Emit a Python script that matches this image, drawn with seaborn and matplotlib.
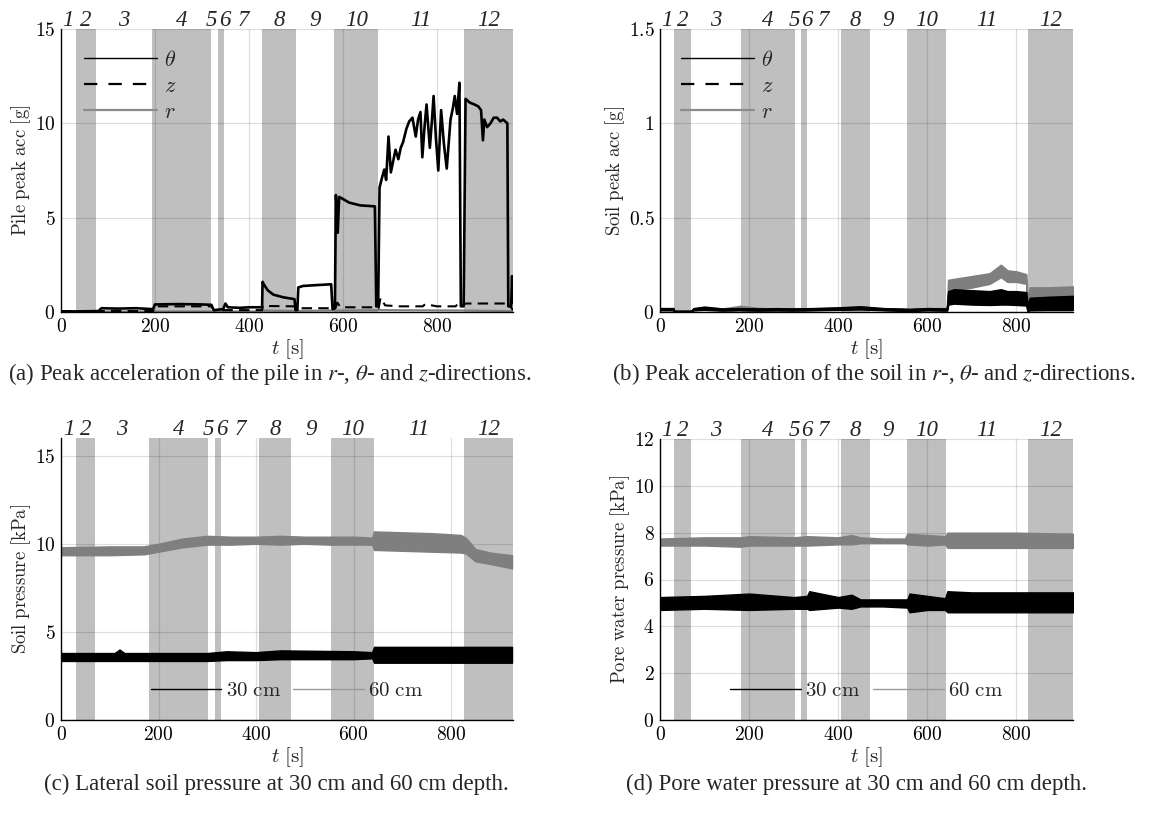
import numpy as np
import pandas as pd
import matplotlib
matplotlib.use("Agg")
import matplotlib.pyplot as plt
import seaborn as sns
from matplotlib.ticker import FuncFormatter
from matplotlib.lines import Line2D
from matplotlib.transforms import blended_transform_factory, ScaledTranslation

sns.set_style("white")
plt.rcParams['font.family'] = ['DejaVu Serif']
plt.rcParams['mathtext.fontset'] = 'cm'
plt.rcParams['axes.unicode_minus'] = False

# ---------------- data ----------------
seg_labels = [str(i) for i in range(1, 13)]
seg_edges_a = [0, 31, 75, 193, 320, 335, 347, 428, 500, 582, 675, 858, 962]
seg_edges_b = [0, 31, 70, 181, 302, 316, 329, 406, 472, 554, 641, 826, 927]
x_ticks = [0, 200, 400, 600, 800]

# (a) pile peak acceleration [g]
t_a_theta = [0, 30, 80, 86, 120, 160, 196, 200, 250, 300, 320, 325, 345, 350, 355, 380, 400, 428,
             429, 432, 440, 452, 473, 497, 499, 503, 505, 515, 540, 575, 578, 583, 585, 587, 589,
             592, 603, 613, 637, 668, 671, 675, 678, 683, 688, 692, 697, 702, 707, 712, 718, 723,
             728, 735, 741, 748, 755, 760, 765, 769, 774, 778, 785, 789, 793, 798, 803, 809, 815,
             821, 829, 834, 838, 843, 848, 851, 857, 861, 870, 880, 888, 894, 898, 901, 907, 914,
             921, 928, 935, 941, 950, 952, 958, 960, 962]
acc_theta = [0.03, 0.03, 0.05, 0.2, 0.18, 0.2, 0.15, 0.4, 0.42, 0.4, 0.38, 0.1, 0.15, 0.45, 0.25,
             0.22, 0.25, 0.25, 1.6, 1.45, 1.15, 0.92, 0.78, 0.68, 0.1, 0.1, 1.3, 1.38, 1.42, 1.47,
             0.15, 0.2, 6.2, 5.5, 4.2, 6.1, 5.95, 5.8, 5.65, 5.6, 0.3, 0.3, 6.6, 7.1, 7.55, 7.0,
             9.3, 7.4, 8.0, 8.6, 8.1, 8.7, 9.0, 9.7, 10.1, 10.3, 9.3, 10.2, 10.6, 8.2, 9.9, 11.0,
             8.7, 10.0, 11.45, 9.2, 7.5, 10.7, 8.9, 7.6, 10.2, 10.8, 11.45, 10.5, 12.15, 0.3, 0.3,
             11.3, 11.1, 11.0, 10.9, 10.7, 9.1, 10.2, 9.8, 10.0, 10.3, 10.3, 10.1, 10.2, 10.0, 0.3,
             0.3, 1.9, 0.5]
t_a_z = [0, 196, 200, 320, 325, 428, 430, 499, 503, 578, 584, 588, 595, 670, 676, 680, 690, 720,
         770, 775, 800, 840, 845, 852, 858, 862, 952, 962]
acc_z = [0.05, 0.05, 0.3, 0.3, 0.1, 0.1, 0.32, 0.3, 0.2, 0.2, 0.2, 0.5, 0.25, 0.25, 0.2, 0.75,
         0.35, 0.3, 0.3, 0.42, 0.3, 0.3, 0.45, 0.3, 0.4, 0.45, 0.45, 0.1]
t_a_r = [0, 428, 430, 500, 585, 675, 860, 962]
acc_r = [0.03, 0.03, 0.08, 0.06, 0.08, 0.1, 0.08, 0.05]

# (b) soil peak acceleration [g] -- envelopes of the noisy traces
t_b = [0, 30, 32, 70, 75, 100, 140, 180, 220, 260, 300, 340, 400, 450, 500, 560, 600, 644, 647,
       660, 700, 740, 765, 780, 800, 822, 825, 830, 870, 927]
r_b_lo = [.012, .012, .001, .001, .010, .015, .010, .020, .012, .006, .012, .010, .015, .018, .012,
          .008, .012, .012, .100, .120, .130, .150, .185, .160, .160, .150, .040, .070, .075, .070]
r_b_hi = [.020, .020, .006, .006, .018, .025, .018, .032, .022, .016, .020, .018, .024, .026, .020,
          .016, .020, .020, .170, .175, .190, .205, .250, .220, .215, .200, .060, .130, .130, .135]
th_b_lo = [.012, .012, .002, .002, .012, .018, .010, .012, .010, .012, .010, .012, .015, .020, .012,
           .008, .012, .010, .060, .070, .060, .055, .060, .060, .055, .050, .010, .030, .030, .030]
th_b_hi = [.020, .020, .006, .006, .020, .028, .018, .020, .018, .020, .018, .020, .024, .030, .020,
           .016, .020, .018, .110, .120, .115, .110, .120, .110, .110, .105, .030, .075, .080, .085]
z_b_lo = [.010, .010, .001, .001, .010, .012, .008, .010, .008, .010, .008, .010, .012, .014, .010,
          .006, .010, .008, .040, .045, .040, .038, .040, .040, .038, .035, .005, .010, .012, .012]
z_b_hi = [.018, .018, .005, .005, .018, .022, .016, .018, .016, .018, .016, .018, .020, .024, .018,
          .014, .018, .016, .095, .090, .090, .088, .095, .090, .088, .085, .020, .055, .060, .060]

# (c) lateral soil pressure [kPa]
t_c60 = [0, 100, 170, 200, 250, 300, 350, 400, 450, 500, 550, 600, 638, 642, 700, 760, 820, 830,
         850, 880, 925]
p_c60_lo = [9.35, 9.35, 9.4, 9.55, 9.8, 9.95, 9.95, 10.0, 9.95, 10.0, 9.95, 9.95, 9.95, 9.65, 9.6,
            9.55, 9.5, 9.45, 9.0, 8.85, 8.6]
p_c60_hi = [9.8, 9.85, 9.85, 10.0, 10.3, 10.45, 10.4, 10.4, 10.45, 10.4, 10.4, 10.4, 10.35, 10.7,
            10.65, 10.6, 10.5, 10.35, 9.7, 9.5, 9.35]
t_c30 = [0, 110, 120, 130, 300, 340, 400, 450, 600, 638, 642, 700, 800, 925]
p_c30_lo = [3.35, 3.35, 3.35, 3.35, 3.35, 3.4, 3.4, 3.45, 3.45, 3.5, 3.25, 3.25, 3.25, 3.25]
p_c30_hi = [3.8, 3.8, 4.0, 3.8, 3.8, 3.9, 3.85, 3.95, 3.9, 3.85, 4.15, 4.15, 4.15, 4.15]

# (d) pore water pressure [kPa]
t_d60 = [0, 100, 180, 200, 300, 330, 400, 430, 450, 500, 550, 555, 600, 640, 645, 700, 800, 927]
p_d60_lo = [7.45, 7.45, 7.4, 7.45, 7.45, 7.45, 7.5, 7.5, 7.55, 7.55, 7.55, 7.5, 7.45, 7.5, 7.35,
            7.35, 7.35, 7.35]
p_d60_hi = [7.75, 7.8, 7.8, 7.85, 7.8, 7.85, 7.8, 7.9, 7.8, 7.75, 7.75, 7.95, 7.9, 7.85, 8.0, 8.0,
            8.0, 7.95]
t_d30 = [0, 100, 200, 300, 330, 335, 400, 430, 450, 500, 555, 560, 600, 640, 645, 700, 927]
p_d30_lo = [4.7, 4.75, 4.7, 4.75, 4.75, 4.7, 4.8, 4.75, 4.85, 4.85, 4.8, 4.6, 4.7, 4.7, 4.6, 4.6, 4.6]
p_d30_hi = [5.25, 5.3, 5.4, 5.25, 5.3, 5.5, 5.25, 5.35, 5.15, 5.15, 5.15, 5.4, 5.3, 5.2, 5.5, 5.45,
            5.45]

captions = [
    r'(a) Peak acceleration of the pile in $r$-, $\theta$- and $z$-directions.',
    r'(b) Peak acceleration of the soil in $r$-, $\theta$- and $z$-directions.',
    r'(c) Lateral soil pressure at 30 cm and 60 cm depth.',
    r'(d) Pore water pressure at 30 cm and 60 cm depth.',
]

# ---------------- figure ----------------
W, H = 1172, 815
fig = plt.figure(figsize=(W / 100, H / 100), dpi=100)


def px_axes(l, t, r, b):
    return fig.add_axes([l / W, 1 - b / H, (r - l) / W, (b - t) / H])


ax_a = px_axes(61, 29, 513, 312)
ax_b = px_axes(660, 29, 1073, 312)
ax_c = px_axes(61, 438, 513, 720)
ax_d = px_axes(660, 439, 1073, 720)

SHADE = '#bfbfbf'
GREY = '#7f7f7f'
fmt = FuncFormatter(lambda v, p: f'${v:g}$')
# small nudges (in pixels) so that the narrow segment labels 5 and 6 do not collide
label_nudge = {'5': -3.5, '6': 3.5}


def style(ax, edges, ylim, yticks, ylabel):
    ax.set_xlim(edges[0], edges[-1])
    ax.set_ylim(*ylim)
    ax.set_xticks(x_ticks)
    ax.set_yticks(yticks)
    ax.xaxis.set_major_formatter(fmt)
    ax.yaxis.set_major_formatter(fmt)
    ax.grid(True, color='black', alpha=0.13, lw=0.9)
    ax.set_axisbelow('line')
    for s in ['top', 'right']:
        ax.spines[s].set_visible(False)
    for s in ['left', 'bottom']:
        ax.spines[s].set_color('black')
        ax.spines[s].set_linewidth(1.0)
        ax.spines[s].set_zorder(5)
    ax.tick_params(direction='in', length=4, width=0.8, labelsize=14, pad=4, colors='black')
    ax.set_xlabel(r'$t\ [\mathrm{s}]$', fontsize=15, labelpad=1.5)
    ax.set_ylabel(ylabel, fontsize=13.5, labelpad=1)
    trans = blended_transform_factory(ax.transData, ax.transAxes)
    for i, (a, b) in enumerate(zip(edges[:-1], edges[1:])):
        if (i + 1) % 2 == 0:
            ax.axvspan(a, b, color=SHADE, lw=0, zorder=1)
    mids = [(a + b) / 2 for a, b in zip(edges[:-1], edges[1:])]
    for lab, m in zip(seg_labels, mids):
        dx = label_nudge.get(lab, 0.0)
        tr = trans + ScaledTranslation(dx / 100, 0, fig.dpi_scale_trans)
        ax.text(m, 1.01, lab, transform=tr, ha='center', va='baseline', fontsize=16.5,
                family='Liberation Serif', fontstyle='italic', clip_on=False)


# (a)
style(ax_a, seg_edges_a, (0, 15), [0, 5, 10, 15], r'$\mathrm{Pile\ peak\ acc\ [g]}$')
sns.lineplot(x=t_a_r, y=acc_r, ax=ax_a, color=GREY, lw=1.5, estimator=None, sort=False, zorder=3)
sns.lineplot(x=t_a_z, y=acc_z, ax=ax_a, color='black', lw=1.5, linestyle=(0, (5, 3)),
             estimator=None, sort=False, zorder=3)
sns.lineplot(x=t_a_theta, y=acc_theta, ax=ax_a, color='black', lw=1.9, estimator=None,
             sort=False, zorder=4)

acc_handles = [Line2D([], [], color='black', lw=1.0),
               Line2D([], [], color='black', lw=1.6, linestyle=(0, (6, 5))),
               Line2D([], [], color='#8c8c8c', lw=1.6)]
acc_labels = [r'$\theta$', r'$z$', r'$r$']
for ax in (ax_a, ax_b):
    ax.legend(acc_handles, acc_labels, loc='upper left', bbox_to_anchor=(0.05, 0.93),
              frameon=False, handlelength=3.3, handletextpad=0.3, labelspacing=0.18,
              fontsize=16, borderaxespad=0, borderpad=0)

# (b)
style(ax_b, seg_edges_b, (0, 1.5), [0, 0.5, 1, 1.5], r'$\mathrm{Soil\ peak\ acc\ [g]}$')
ax_b.fill_between(t_b, r_b_lo, r_b_hi, color=GREY, lw=1.2, ec=GREY, zorder=3)
ax_b.fill_between(t_b, z_b_lo, z_b_hi, color='black', lw=1.2, ec='black', zorder=4)
ax_b.fill_between(t_b, th_b_lo, th_b_hi, color='black', lw=1.2, ec='black', zorder=4)

# (c)
style(ax_c, seg_edges_b, (0, 16), [0, 5, 10, 15], r'$\mathrm{Soil\ pressure\ [kPa]}$')
ax_c.fill_between(t_c60, p_c60_lo, p_c60_hi, color=GREY, lw=1.0, ec=GREY, zorder=3)
ax_c.fill_between(t_c30, p_c30_lo, p_c30_hi, color='black', lw=1.0, ec='black', zorder=4)

# (d)
style(ax_d, seg_edges_b, (0, 12), [0, 2, 4, 6, 8, 10, 12], r'$\mathrm{Pore\ water\ pressure\ [kPa]}$')
ax_d.fill_between(t_d60, p_d60_lo, p_d60_hi, color=GREY, lw=1.0, ec=GREY, zorder=3)
ax_d.fill_between(t_d30, p_d30_lo, p_d30_hi, color='black', lw=1.0, ec='black', zorder=4)

depth_handles = [Line2D([], [], color='black', lw=1.0), Line2D([], [], color='#999999', lw=1.0)]
depth_labels = [r'$\mathrm{30\ cm}$', r'$\mathrm{60\ cm}$']
for ax in (ax_c, ax_d):
    ax.legend(depth_handles, depth_labels, loc='center', bbox_to_anchor=(0.5, 0.105), ncol=2,
              frameon=False, handlelength=3.4, handletextpad=0.2, columnspacing=0.6,
              fontsize=15, borderaxespad=0, borderpad=0)

cap_pos = [(270, 374), (874, 374), (276, 784), (856, 784)]
for txt, (cx, cy) in zip(captions, cap_pos):
    fig.text(cx / W, 1 - cy / H, txt, ha='center', va='center', fontsize=16.5,
             family='Liberation Serif', math_fontfamily='stix')

fig.savefig('out.png', dpi=100)
